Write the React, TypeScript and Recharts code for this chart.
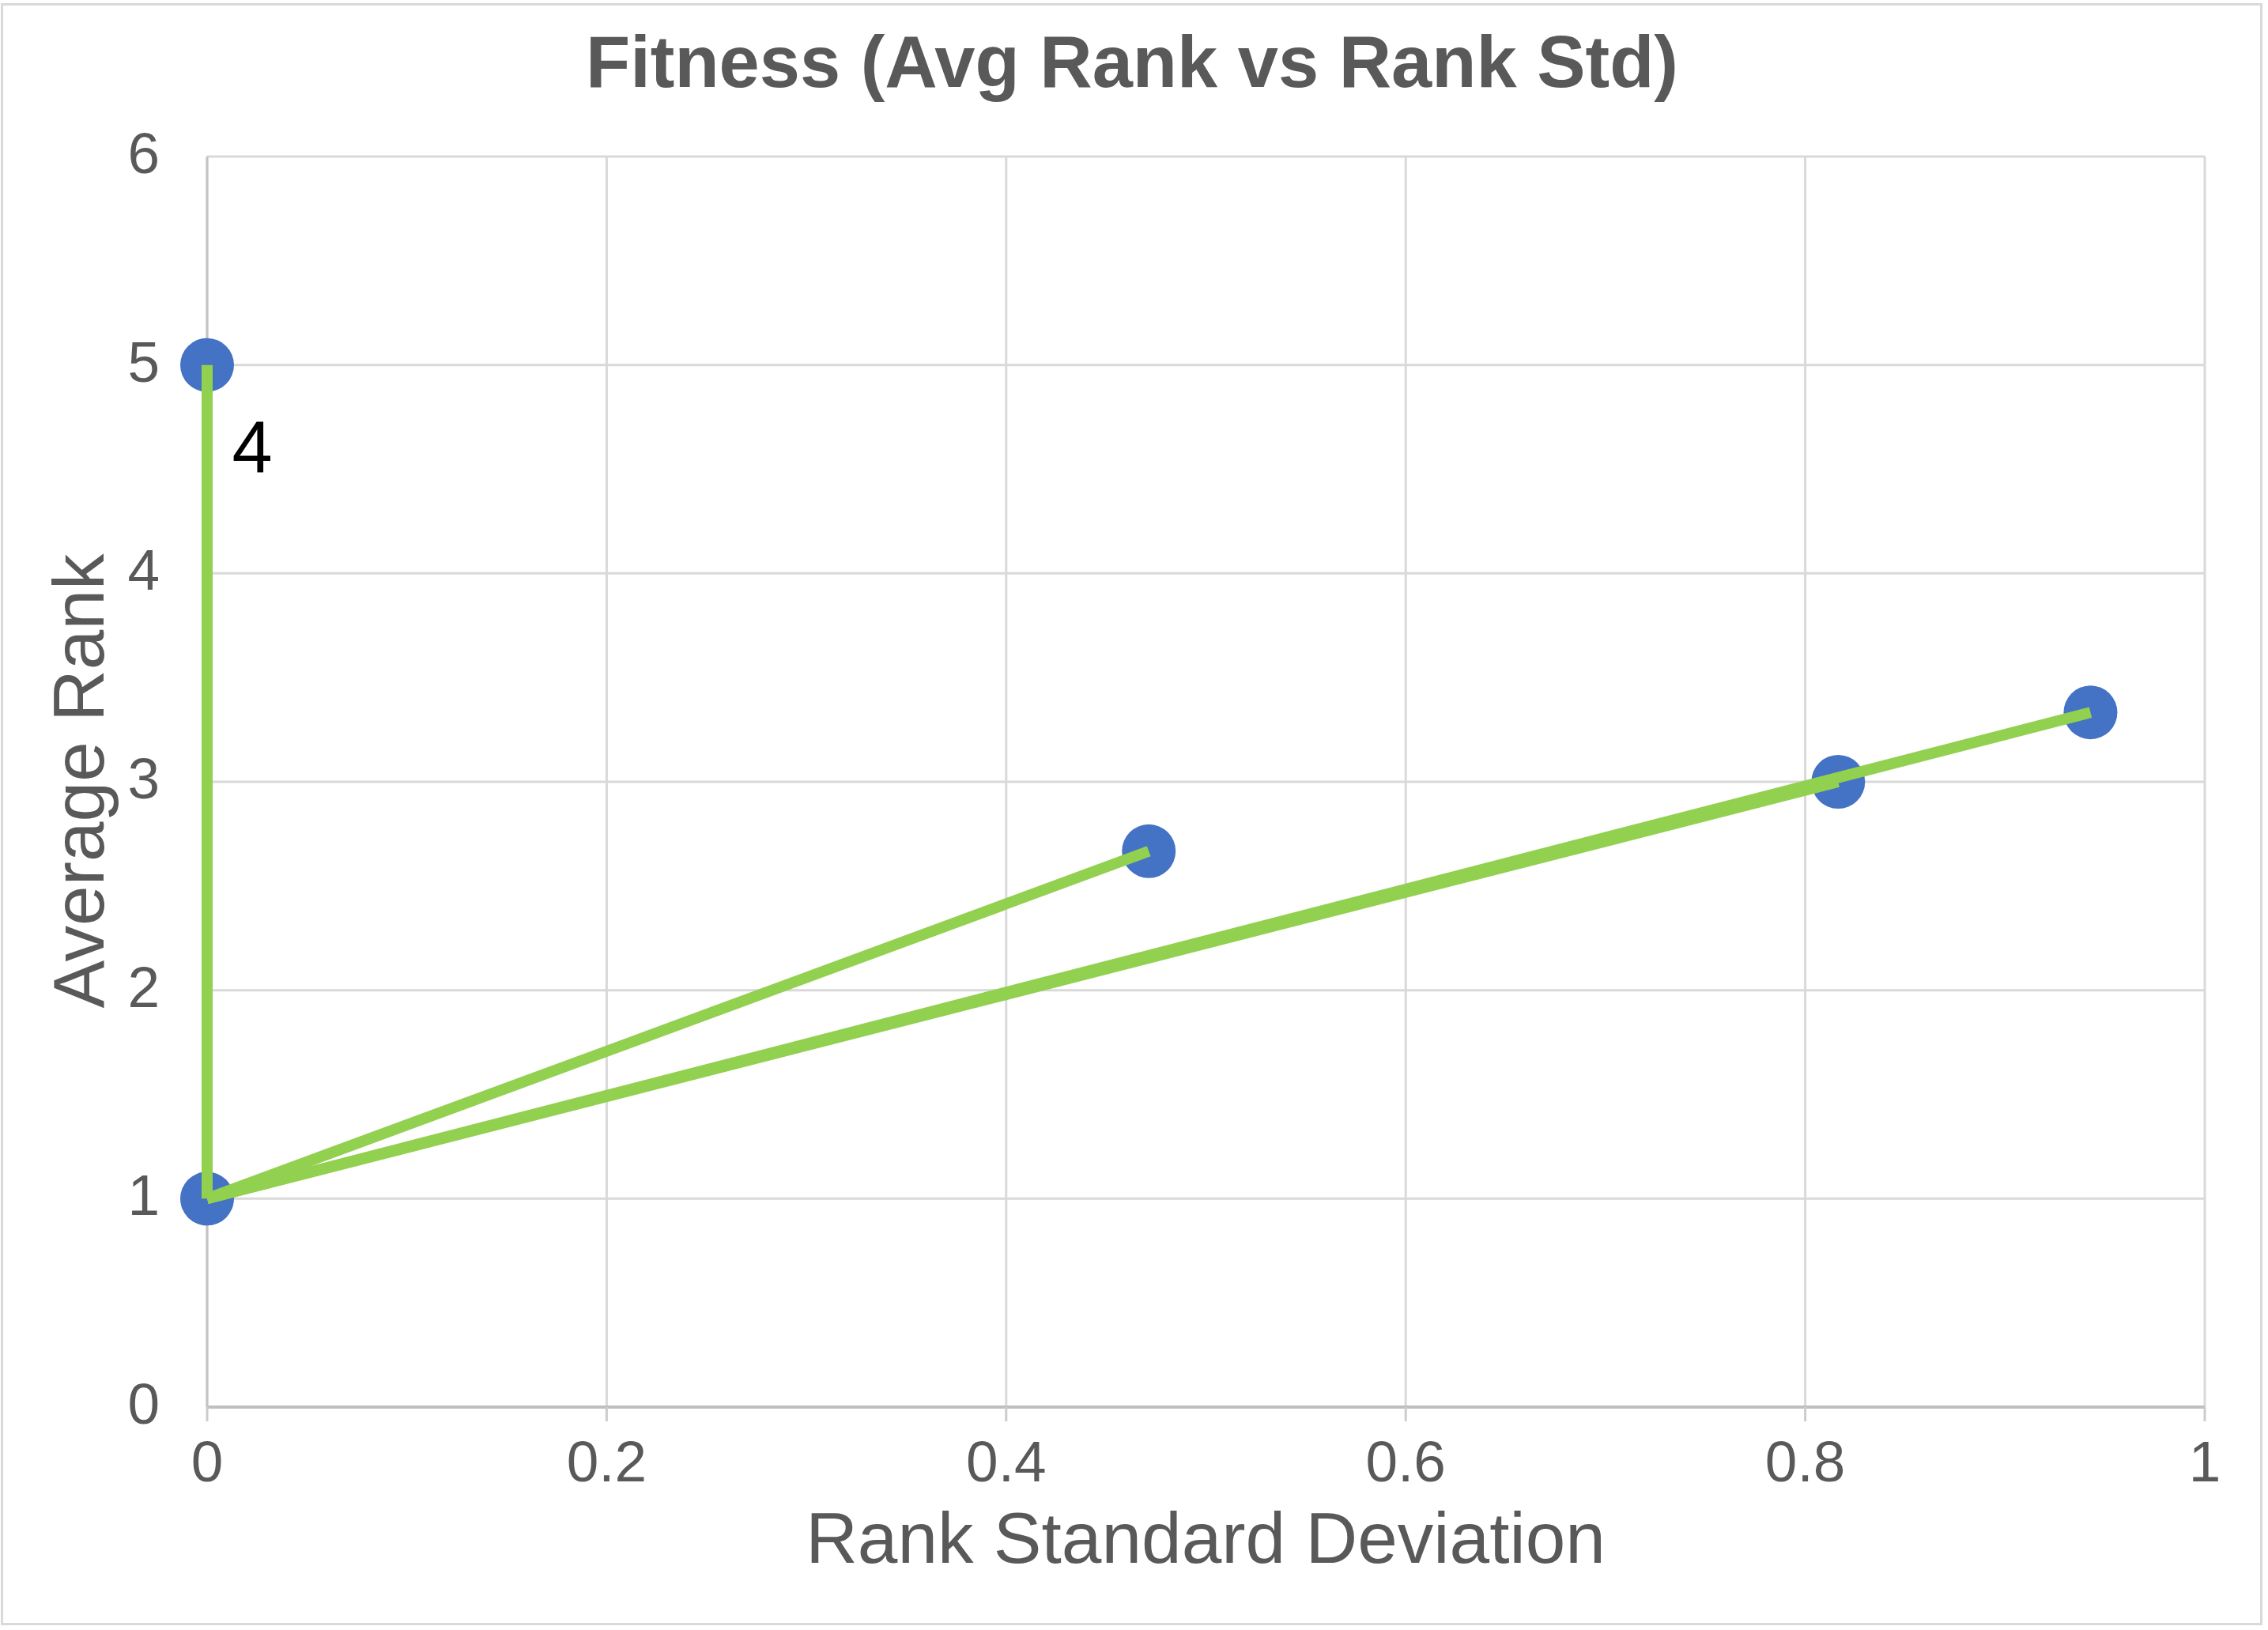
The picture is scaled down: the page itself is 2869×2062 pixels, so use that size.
import {
  ScatterChart,
  Scatter,
  XAxis,
  YAxis,
  CartesianGrid,
  ReferenceDot,
} from 'recharts'

const FONT = '"Liberation Sans", Arial, Helvetica, sans-serif'
const TEXT = '#595959'

// points: rank std (x) vs average rank (y)
const rankStd = [0, 0, 0.4714, 0.8165, 0.9428]
const avgRank = [5, 1, 2.667, 3, 3.333]
const pointLabels = ['4', '', '', '', '']

// each green segment joins two points (by index)
const segments = [
  [0, 1],
  [1, 2],
  [1, 3],
  [1, 4],
]

const xTicks = [0, 0.2, 0.4, 0.6, 0.8, 1]
const xTickLabels = ['0', '0.2', '0.4', '0.6', '0.8', '1']
const yTicks = [0, 1, 2, 3, 4, 5, 6]

const points = rankStd.map((x, i) => ({ x, y: avgRank[i], label: pointLabels[i] }))

const XTick = ({ x, y, payload }: any) => {
  const idx = xTicks.indexOf(payload.value)
  return (
    <text x={x} y={y} dy="0.71em" textAnchor="middle" fill={TEXT} fontSize={73} fontFamily={FONT}>
      {idx >= 0 ? xTickLabels[idx] : payload.value}
    </text>
  )
}

const YTick = ({ x, y, payload }: any) => (
  <text x={x} y={y} dy={21} textAnchor="end" fill={TEXT} fontSize={73} fontFamily={FONT}>
    {payload.value}
  </text>
)

const Dot = (props: any) => <circle cx={props.cx} cy={props.cy} r={34} fill="#4472C4" />
const NoDot = () => <g />

export default function App() {
  const labelled = points.filter((p) => p.label)
  return (
    <div style={{ position: 'absolute', left: 0, top: 0, width: 2869, height: 2062, background: '#fff' }}>
      <ScatterChart
        width={2869}
        height={2062}
        margin={{ top: 198, right: 80, bottom: 182, left: 0 }}
      >
        <CartesianGrid stroke="#d9d9d9" strokeWidth={3} />
        <XAxis
          type="number"
          dataKey="x"
          domain={[0, 1]}
          ticks={xTicks}
          height={100}
          axisLine={{ stroke: '#bfbfbf', strokeWidth: 4 }}
          tickLine={{ stroke: '#cccccc', strokeWidth: 3 }}
          tickSize={18}
          tickMargin={24}
          tick={<XTick />}
        />
        <YAxis
          type="number"
          dataKey="y"
          domain={[0, 6]}
          ticks={yTicks}
          width={262}
          axisLine={{ stroke: '#c4c4c4', strokeWidth: 3 }}
          tickLine={false}
          tickSize={0}
          tickMargin={60}
          tick={<YTick />}
        />
        <Scatter data={points} shape={<Dot />} isAnimationActive={false} />
        {segments.map(([a, b], i) => (
          <Scatter
            key={`seg-${i}`}
            data={[points[a], points[b]]}
            line={{ stroke: '#92D050', strokeWidth: 14 }}
            lineType="joint"
            shape={<NoDot />}
            isAnimationActive={false}
          />
        ))}
        {labelled.map((p, i) => (
          <ReferenceDot
            key={`lbl-${i}`}
            x={p.x}
            y={p.y}
            r={0}
            fill="none"
            stroke="none"
            ifOverflow="visible"
            label={{
              content: (lp: any) => (
                <text
                  x={lp.viewBox.x + 57}
                  y={lp.viewBox.y + 135}
                  textAnchor="middle"
                  fill="#000"
                  fontSize={92}
                  fontFamily={FONT}
                >
                  {p.label}
                </text>
              ),
            }}
          />
        ))}
        <text x={1432} y={110} textAnchor="middle" fill={TEXT} fontSize={92} fontWeight="bold" fontFamily={FONT}>
          Fitness (Avg Rank vs Rank Std)
        </text>
        <text x={1525} y={1977} textAnchor="middle" fill={TEXT} fontSize={91} fontFamily={FONT}>
          Rank Standard Deviation
        </text>
        <text
          x={131}
          y={988}
          transform="rotate(-90, 131, 988)"
          textAnchor="middle"
          fill={TEXT}
          fontSize={91}
          fontFamily={FONT}
        >
          Average Rank
        </text>
      </ScatterChart>
      <div
        style={{
          position: 'absolute',
          left: 1,
          top: 4,
          width: 2861,
          height: 2052,
          border: '3px solid #d9d9d9',
          boxSizing: 'border-box',
          pointerEvents: 'none',
        }}
      />
    </div>
  )
}
